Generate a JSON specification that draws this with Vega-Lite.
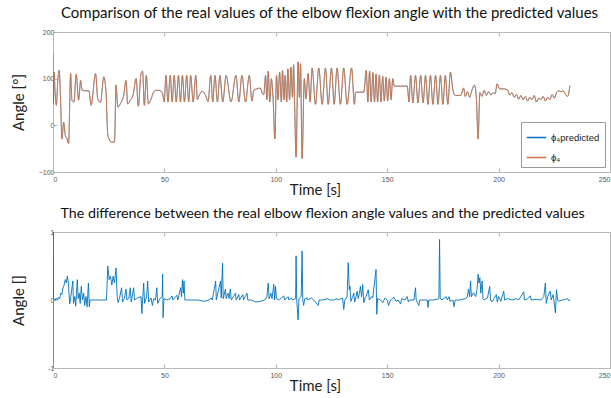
{
  "$schema": "https://vega.github.io/schema/vega-lite/v6.json",
  "autosize": {"type": "pad"},
  "padding": {"left": 10, "top": 5, "right": 0, "bottom": 0},
  "background": "white",
  "config": {
    "font": "Lato",
    "view": {"stroke": "#b8b8b8", "strokeWidth": 1},
    "axis": {
      "grid": false,
      "domainColor": "#b8b8b8",
      "tickColor": "#b8b8b8",
      "tickSize": -4,
      "labelFontSize": 7,
      "labelColor": "#555555",
      "labelFont": "Liberation Sans",
      "titleFont": "Lato",
      "titleFontWeight": "normal",
      "titleFontSize": 15,
      "titleColor": "#222222"
    },
    "title": {"fontSize": 15, "font": "Lato", "fontWeight": "normal", "color": "#111111", "offset": 7},
    "legend": {
      "strokeColor": "#9a9a9a",
      "fillColor": "white",
      "padding": 5,
      "symbolType": "stroke",
      "symbolSize": 380,
      "symbolStrokeWidth": 1.5,
      "labelFontSize": 9.5,
      "labelFont": "Liberation Sans",
      "labelColor": "#222222",
      "rowPadding": 5,
      "title": null
    },
    "concat": {"spacing": 8}
  },
  "resolve": {"scale": {"color": "independent"}, "legend": {"color": "independent"}},
  "datasets": {
    "top": [
      {"t":0,"real":100,"pred":155},{"t":0.15,"real":107,"pred":45},{"t":0.45,"real":114,"pred":114},{"t":1.0,"real":64,"pred":64},{"t":1.5,"real":43,"pred":43},{"t":2.2,"real":100,"pred":100},{"t":2.8,"real":118,"pred":118},{"t":3.4,"real":54,"pred":54},{"t":4.0,"real":-29,"pred":-29},{"t":4.8,"real":7,"pred":7},{"t":5.5,"real":-21,"pred":-21},{"t":6.3,"real":-29,"pred":-29},{"t":7.0,"real":-39,"pred":-39},{"t":7.9,"real":111,"pred":111},{"t":8.5,"real":54,"pred":54},{"t":9.4,"real":50,"pred":50},{"t":10.4,"real":109,"pred":109},{"t":11.5,"real":54,"pred":54},{"t":12.4,"real":96,"pred":96},{"t":13.1,"real":75,"pred":75},{"t":14.2,"real":74,"pred":74},{"t":16.1,"real":74,"pred":74},{"t":17.1,"real":43,"pred":43},{"t":19.1,"real":111,"pred":111},{"t":20.1,"real":57,"pred":57},{"t":21.3,"real":49,"pred":49},{"t":22.8,"real":104,"pred":104},{"t":23.8,"real":71,"pred":71},{"t":24.6,"real":-21,"pred":-21},{"t":25.2,"real":-29,"pred":-29},{"t":26.1,"real":-36,"pred":-36},{"t":27.6,"real":-36,"pred":-36},{"t":28.3,"real":86,"pred":86},{"t":29.1,"real":39,"pred":39},{"t":30.2,"real":46,"pred":46},{"t":31.7,"real":64,"pred":64},{"t":32.8,"real":96,"pred":96},{"t":33.5,"real":46,"pred":46},{"t":34.7,"real":54,"pred":54},{"t":35.9,"real":64,"pred":64},{"t":37.3,"real":100,"pred":100},{"t":38.3,"real":41,"pred":41},{"t":39.5,"real":111,"pred":111},{"t":40.2,"real":116,"pred":116},{"t":41.0,"real":43,"pred":43},{"t":41.9,"real":107,"pred":107},{"t":42.8,"real":46,"pred":46},{"t":44.0,"real":56,"pred":56},{"t":45.1,"real":71,"pred":71},{"t":46.2,"real":75,"pred":75},{"t":47.7,"real":75,"pred":75},{"t":49.2,"real":68,"pred":68},{"t":49.9,"real":50,"pred":50},{"t":50.7,"real":107,"pred":107},{"t":51.6,"real":50,"pred":50},{"t":52.6,"real":107,"pred":107},{"t":53.5,"real":50,"pred":50},{"t":54.4,"real":107,"pred":107},{"t":55.3,"real":50,"pred":50},{"t":56.3,"real":107,"pred":107},{"t":57.2,"real":50,"pred":50},{"t":58.1,"real":107,"pred":107},{"t":59.0,"real":50,"pred":50},{"t":60.0,"real":107,"pred":107},{"t":60.9,"real":50,"pred":50},{"t":61.8,"real":107,"pred":107},{"t":62.9,"real":50,"pred":50},{"t":64.1,"real":107,"pred":107},{"t":64.8,"real":55,"pred":55},{"t":65.6,"real":64,"pred":64},{"t":67.0,"real":73,"pred":73},{"t":68.5,"real":64,"pred":64},{"t":69.6,"real":51,"pred":51},{"t":70.8,"real":107,"pred":107},{"t":71.7,"real":50,"pred":50},{"t":72.7,"real":107,"pred":107},{"t":73.8,"real":50,"pred":50},{"t":74.9,"real":107,"pred":107},{"t":76.2,"real":50,"pred":50},{"t":77.7,"real":107,"pred":107},{"t":79.9,"real":50,"pred":50},{"t":82.1,"real":107,"pred":107},{"t":83.4,"real":50,"pred":50},{"t":84.8,"real":107,"pred":107},{"t":86.4,"real":50,"pred":50},{"t":88.1,"real":107,"pred":107},{"t":89.3,"real":52,"pred":52},{"t":90.2,"real":76,"pred":76},{"t":91.5,"real":78,"pred":78},{"t":93.0,"real":80,"pred":80},{"t":94.0,"real":68,"pred":68},{"t":94.6,"real":66,"pred":66},{"t":95.4,"real":107,"pred":107},{"t":96.0,"real":55,"pred":55},{"t":96.6,"real":116,"pred":116},{"t":97.3,"real":50,"pred":50},{"t":98.0,"real":100,"pred":100},{"t":98.8,"real":55,"pred":55},{"t":99.6,"real":-29,"pred":-29},{"t":100.3,"real":107,"pred":107},{"t":101.0,"real":55,"pred":55},{"t":101.7,"real":114,"pred":114},{"t":102.5,"real":50,"pred":50},{"t":103.0,"real":118,"pred":118},{"t":103.7,"real":55,"pred":55},{"t":104.2,"real":107,"pred":107},{"t":104.9,"real":50,"pred":50},{"t":105.4,"real":121,"pred":121},{"t":106.2,"real":55,"pred":55},{"t":106.8,"real":125,"pred":125},{"t":107.5,"real":60,"pred":60},{"t":108.0,"real":130,"pred":130},{"t":108.4,"real":55,"pred":55},{"t":109.1,"real":-68,"pred":-68},{"t":110.0,"real":136,"pred":136},{"t":110.6,"real":60,"pred":60},{"t":111.1,"real":132,"pred":132},{"t":111.8,"real":-71,"pred":-71},{"t":112.8,"real":100,"pred":100},{"t":113.5,"real":57,"pred":57},{"t":114.5,"real":111,"pred":111},{"t":115.4,"real":50,"pred":50},{"t":116.3,"real":123,"pred":123},{"t":117.8,"real":45,"pred":45},{"t":119.3,"real":123,"pred":123},{"t":120.8,"real":45,"pred":45},{"t":122.3,"real":123,"pred":123},{"t":123.5,"real":45,"pred":45},{"t":125.0,"real":123,"pred":123},{"t":126.2,"real":45,"pred":45},{"t":127.5,"real":123,"pred":123},{"t":129.0,"real":45,"pred":45},{"t":130.5,"real":123,"pred":123},{"t":132.0,"real":45,"pred":45},{"t":134.0,"real":123,"pred":123},{"t":135.3,"real":45,"pred":45},{"t":135.8,"real":71,"pred":71},{"t":137.5,"real":71,"pred":71},{"t":139.5,"real":71,"pred":71},{"t":140.6,"real":118,"pred":118},{"t":141.3,"real":50,"pred":50},{"t":142.1,"real":116,"pred":116},{"t":142.8,"real":50,"pred":50},{"t":143.6,"real":113,"pred":113},{"t":144.3,"real":50,"pred":50},{"t":145.0,"real":110,"pred":110},{"t":145.7,"real":50,"pred":50},{"t":146.5,"real":108,"pred":108},{"t":147.2,"real":50,"pred":50},{"t":148.0,"real":105,"pred":105},{"t":148.7,"real":52,"pred":52},{"t":149.5,"real":103,"pred":103},{"t":150.2,"real":52,"pred":52},{"t":151.0,"real":100,"pred":100},{"t":151.7,"real":55,"pred":55},{"t":152.5,"real":100,"pred":100},{"t":153.2,"real":84,"pred":84},{"t":154.5,"real":84,"pred":84},{"t":157.0,"real":84,"pred":84},{"t":159.0,"real":84,"pred":84},{"t":159.8,"real":50,"pred":50},{"t":160.5,"real":107,"pred":107},{"t":161.5,"real":48,"pred":48},{"t":162.7,"real":107,"pred":107},{"t":163.8,"real":48,"pred":48},{"t":165.0,"real":107,"pred":107},{"t":166.1,"real":48,"pred":48},{"t":167.2,"real":107,"pred":107},{"t":168.3,"real":45,"pred":45},{"t":169.4,"real":107,"pred":107},{"t":170.5,"real":45,"pred":45},{"t":171.7,"real":107,"pred":107},{"t":172.8,"real":45,"pred":45},{"t":173.9,"real":107,"pred":107},{"t":175.0,"real":45,"pred":45},{"t":176.1,"real":107,"pred":107},{"t":177.2,"real":45,"pred":45},{"t":178.4,"real":114,"pred":114},{"t":179.5,"real":75,"pred":75},{"t":180.6,"real":64,"pred":64},{"t":183.0,"real":64,"pred":64},{"t":184.3,"real":80,"pred":80},{"t":185.0,"real":62,"pred":62},{"t":186.0,"real":72,"pred":72},{"t":187.0,"real":60,"pred":60},{"t":188.0,"real":75,"pred":75},{"t":189.2,"real":86,"pred":86},{"t":190.0,"real":60,"pred":60},{"t":190.8,"real":-29,"pred":-29},{"t":191.6,"real":70,"pred":70},{"t":192.5,"real":62,"pred":62},{"t":193.5,"real":75,"pred":75},{"t":194.5,"real":64,"pred":64},{"t":195.5,"real":72,"pred":72},{"t":196.5,"real":65,"pred":65},{"t":197.5,"real":70,"pred":70},{"t":198.5,"real":68,"pred":68},{"t":199.3,"real":89,"pred":89},{"t":200.5,"real":78,"pred":78},{"t":202.5,"real":78,"pred":78},{"t":204.0,"real":76,"pred":76},{"t":205.0,"real":65,"pred":65},{"t":206.0,"real":70,"pred":70},{"t":207.0,"real":60,"pred":60},{"t":208.0,"real":66,"pred":66},{"t":209.0,"real":56,"pred":56},{"t":210.0,"real":64,"pred":64},{"t":211.0,"real":55,"pred":55},{"t":212.0,"real":62,"pred":62},{"t":213.0,"real":52,"pred":52},{"t":214.0,"real":60,"pred":60},{"t":215.0,"real":55,"pred":55},{"t":216.0,"real":64,"pred":64},{"t":217.0,"real":50,"pred":50},{"t":218.0,"real":58,"pred":58},{"t":219.0,"real":55,"pred":55},{"t":220.0,"real":62,"pred":62},{"t":221.0,"real":52,"pred":52},{"t":222.0,"real":60,"pred":60},{"t":223.0,"real":55,"pred":55},{"t":224.0,"real":66,"pred":66},{"t":225.0,"real":58,"pred":58},{"t":226.0,"real":70,"pred":70},{"t":227.0,"real":74,"pred":74},{"t":228.0,"real":72,"pred":72},{"t":229.0,"real":74,"pred":74},{"t":230.0,"real":66,"pred":66},{"t":231.0,"real":62,"pred":62},{"t":232.0,"real":85,"pred":85}
    ],
    "diff": [
      {"t":0,"d":-1.5},{"t":0.05,"d":1.5},{"t":0.2,"d":0.02},{"t":1.0,"d":0.0},{"t":1.5,"d":0.03},{"t":2.0,"d":0.0},{"t":2.5,"d":0.04},{"t":3.0,"d":0.02},{"t":3.5,"d":0.1},{"t":4.0,"d":0.08},{"t":4.5,"d":0.18},{"t":5.0,"d":0.22},{"t":5.5,"d":0.3},{"t":6.0,"d":0.25},{"t":6.4,"d":0.35},{"t":6.8,"d":0.28},{"t":7.2,"d":0.1},{"t":7.5,"d":-0.06},{"t":8.0,"d":0.05},{"t":8.9,"d":0.28},{"t":9.2,"d":-0.05},{"t":9.8,"d":0.05},{"t":10.2,"d":-0.09},{"t":10.9,"d":0.3},{"t":11.3,"d":0.02},{"t":11.8,"d":0.1},{"t":12.2,"d":-0.05},{"t":12.7,"d":0.2},{"t":13.2,"d":0.0},{"t":13.8,"d":0.1},{"t":14.2,"d":-0.08},{"t":14.8,"d":0.05},{"t":15.3,"d":-0.1},{"t":15.9,"d":0.25},{"t":16.3,"d":-0.1},{"t":16.6,"d":0.0},{"t":20.0,"d":0.0},{"t":24.0,"d":0.0},{"t":24.6,"d":0.5},{"t":25.2,"d":0.3},{"t":25.8,"d":0.35},{"t":26.4,"d":0.22},{"t":27.0,"d":0.35},{"t":27.6,"d":0.25},{"t":28.3,"d":0.47},{"t":28.8,"d":0.05},{"t":29.2,"d":-0.04},{"t":29.8,"d":0.02},{"t":30.8,"d":0.18},{"t":31.2,"d":-0.03},{"t":32.0,"d":0.02},{"t":32.8,"d":0.16},{"t":33.2,"d":0.0},{"t":34.0,"d":0.02},{"t":34.7,"d":0.18},{"t":35.1,"d":-0.03},{"t":36.2,"d":0.18},{"t":36.6,"d":0.0},{"t":37.5,"d":0.02},{"t":38.0,"d":0.03},{"t":39.5,"d":0.05},{"t":39.9,"d":-0.2},{"t":40.3,"d":0.05},{"t":40.7,"d":0.25},{"t":41.1,"d":-0.05},{"t":42.0,"d":0.05},{"t":42.5,"d":0.28},{"t":42.9,"d":-0.03},{"t":44.0,"d":0.03},{"t":44.6,"d":-0.08},{"t":45.2,"d":0.02},{"t":46.0,"d":0.0},{"t":46.6,"d":0.18},{"t":47.0,"d":-0.05},{"t":48.0,"d":0.02},{"t":49.0,"d":0.05},{"t":49.2,"d":0.38},{"t":49.4,"d":-0.26},{"t":49.8,"d":0.02},{"t":51.0,"d":0.0},{"t":52.5,"d":0.02},{"t":53.4,"d":0.06},{"t":53.8,"d":0.0},{"t":55.6,"d":0.07},{"t":56.0,"d":0.0},{"t":57.3,"d":0.18},{"t":57.7,"d":0.05},{"t":58.1,"d":0.3},{"t":58.5,"d":0.1},{"t":58.8,"d":0.28},{"t":59.2,"d":0.0},{"t":60.0,"d":0.0},{"t":65.0,"d":0.0},{"t":68.0,"d":-0.02},{"t":70.0,"d":0.0},{"t":71.0,"d":0.03},{"t":71.5,"d":0.0},{"t":73.0,"d":0.28},{"t":73.3,"d":0.0},{"t":75.2,"d":0.28},{"t":75.5,"d":0.03},{"t":76.1,"d":0.54},{"t":76.4,"d":0.02},{"t":77.4,"d":0.16},{"t":77.7,"d":0.02},{"t":78.5,"d":0.1},{"t":79.0,"d":0.02},{"t":79.6,"d":0.16},{"t":80.0,"d":0.0},{"t":81.9,"d":0.1},{"t":82.2,"d":0.0},{"t":83.4,"d":0.08},{"t":83.7,"d":0.0},{"t":85.2,"d":0.08},{"t":85.5,"d":0.0},{"t":87.1,"d":0.1},{"t":87.4,"d":0.0},{"t":89.0,"d":0.0},{"t":91.0,"d":-0.03},{"t":93.0,"d":-0.02},{"t":95.0,"d":0.0},{"t":96.0,"d":0.05},{"t":96.6,"d":0.25},{"t":97.0,"d":0.02},{"t":97.8,"d":0.1},{"t":98.3,"d":0.02},{"t":99.1,"d":0.23},{"t":99.5,"d":0.0},{"t":99.9,"d":0.2},{"t":100.3,"d":0.02},{"t":101.5,"d":0.0},{"t":103.6,"d":0.06},{"t":104.0,"d":0.0},{"t":105.5,"d":0.05},{"t":105.9,"d":0.0},{"t":107.0,"d":0.03},{"t":107.5,"d":0.0},{"t":108.9,"d":0.02},{"t":109.1,"d":0.65},{"t":109.4,"d":0.0},{"t":110.0,"d":-0.29},{"t":110.4,"d":0.02},{"t":111.4,"d":0.05},{"t":111.8,"d":0.72},{"t":112.1,"d":0.0},{"t":112.5,"d":-0.08},{"t":113.0,"d":0.02},{"t":114.0,"d":0.03},{"t":114.5,"d":0.0},{"t":116.0,"d":0.03},{"t":117.0,"d":0.0},{"t":119.0,"d":-0.08},{"t":119.5,"d":0.0},{"t":121.0,"d":0.0},{"t":123.5,"d":0.02},{"t":124.0,"d":0.0},{"t":126.0,"d":0.0},{"t":127.5,"d":0.02},{"t":128.0,"d":0.0},{"t":130.0,"d":0.03},{"t":130.5,"d":-0.14},{"t":131.0,"d":0.0},{"t":132.0,"d":0.05},{"t":132.5,"d":0.55},{"t":133.0,"d":0.15},{"t":133.3,"d":0.2},{"t":133.7,"d":-0.02},{"t":134.5,"d":0.05},{"t":135.0,"d":0.1},{"t":135.4,"d":-0.03},{"t":136.0,"d":0.05},{"t":136.5,"d":0.13},{"t":137.0,"d":0.02},{"t":137.5,"d":0.1},{"t":138.0,"d":0.2},{"t":138.5,"d":0.05},{"t":139.0,"d":0.23},{"t":139.5,"d":-0.04},{"t":140.0,"d":0.03},{"t":140.5,"d":0.05},{"t":141.5,"d":0.15},{"t":142.0,"d":0.0},{"t":143.0,"d":0.05},{"t":143.5,"d":0.03},{"t":145.0,"d":0.45},{"t":145.3,"d":-0.21},{"t":145.7,"d":0.02},{"t":147.0,"d":0.0},{"t":148.0,"d":-0.04},{"t":149.0,"d":0.03},{"t":150.0,"d":0.0},{"t":150.6,"d":-0.08},{"t":151.5,"d":0.0},{"t":153.0,"d":0.04},{"t":154.0,"d":-0.02},{"t":155.0,"d":0.0},{"t":156.0,"d":-0.06},{"t":156.5,"d":0.02},{"t":158.0,"d":0.0},{"t":159.0,"d":0.05},{"t":159.5,"d":-0.03},{"t":160.0,"d":0.0},{"t":162.0,"d":0.0},{"t":162.7,"d":0.18},{"t":163.0,"d":0.0},{"t":164.2,"d":-0.08},{"t":164.6,"d":0.0},{"t":166.0,"d":0.0},{"t":168.0,"d":0.0},{"t":168.3,"d":-0.11},{"t":168.7,"d":0.0},{"t":171.0,"d":0.0},{"t":173.2,"d":0.02},{"t":173.5,"d":0.89},{"t":173.8,"d":0.03},{"t":174.5,"d":0.0},{"t":176.5,"d":0.05},{"t":177.0,"d":0.0},{"t":177.8,"d":0.05},{"t":178.2,"d":-0.02},{"t":179.5,"d":0.0},{"t":180.0,"d":-0.1},{"t":180.5,"d":0.0},{"t":182.5,"d":0.0},{"t":185.0,"d":0.02},{"t":185.9,"d":0.04},{"t":186.5,"d":0.16},{"t":187.0,"d":0.05},{"t":187.4,"d":0.28},{"t":187.8,"d":0.05},{"t":188.5,"d":0.1},{"t":189.0,"d":0.1},{"t":189.7,"d":0.05},{"t":190.3,"d":0.15},{"t":190.8,"d":0.38},{"t":191.2,"d":0.25},{"t":191.6,"d":0.33},{"t":192.0,"d":0.1},{"t":192.6,"d":0.28},{"t":193.0,"d":0.02},{"t":193.5,"d":0.0},{"t":195.0,"d":0.03},{"t":196.0,"d":0.2},{"t":196.4,"d":0.0},{"t":197.0,"d":-0.03},{"t":198.0,"d":0.02},{"t":199.0,"d":0.08},{"t":199.4,"d":-0.03},{"t":200.0,"d":0.05},{"t":201.0,"d":-0.02},{"t":202.3,"d":0.13},{"t":202.7,"d":0.0},{"t":204.0,"d":0.02},{"t":206.0,"d":0.0},{"t":208.0,"d":0.02},{"t":209.0,"d":0.0},{"t":211.3,"d":0.12},{"t":211.6,"d":0.0},{"t":213.0,"d":0.02},{"t":214.3,"d":0.06},{"t":214.6,"d":0.0},{"t":217.0,"d":0.01},{"t":219.0,"d":0.0},{"t":220.3,"d":0.05},{"t":221.0,"d":0.25},{"t":221.4,"d":-0.05},{"t":222.0,"d":0.05},{"t":223.2,"d":0.13},{"t":223.6,"d":0.0},{"t":224.5,"d":0.08},{"t":225.5,"d":-0.19},{"t":226.0,"d":0.15},{"t":226.5,"d":0.0},{"t":227.0,"d":-0.02},{"t":228.5,"d":0.0},{"t":230.0,"d":0.01},{"t":231.0,"d":0.02},{"t":231.5,"d":-0.01},{"t":232.2,"d":0.0}
    ]
  },
  "vconcat": [
    {
      "title": {"text": "Comparison of the real values of the elbow flexion angle with the predicted values", "anchor": "middle", "dx": -2},
      "width": 557,
      "height": 140,
      "data": {"name": "top"},
      "layer": [
        {
          "mark": {"type": "line", "interpolate": "monotone", "strokeWidth": 0.6, "clip": true},
          "encoding": {
            "x": {"field": "t", "type": "quantitative", "scale": {"domain": [0, 250], "nice": false, "zero": false},
              "axis": {"values": [0, 50, 100, 150, 200, 250], "title": "Time [s]", "titleX": 262, "titleY": 17, "titleBaseline": "middle", "labelPadding": 7}},
            "y": {"field": "pred", "type": "quantitative", "scale": {"domain": [-100, 200], "nice": false, "zero": false},
              "axis": {"values": [-100, -50, 0, 50, 100, 150, 200], "title": "Angle [°]", "titleX": -35, "titleY": 70, "titleAngle": -90, "titleBaseline": "middle", "titleAlign": "center", "labelPadding": 3}},
            "color": {"datum": "ϕ₄predicted", "type": "nominal", "scale": {"domain": ["ϕ₄predicted", "ϕ₄"], "range": ["#0072BD", "#D4703F"]},
              "legend": {"orient": "bottom-right", "offset": 5}}
          }
        },
        {
          "mark": {"type": "line", "interpolate": "monotone", "strokeWidth": 0.9, "clip": true},
          "encoding": {
            "x": {"field": "t", "type": "quantitative", "scale": {"domain": [0, 250], "nice": false, "zero": false},
              "axis": {"orient": "top", "values": [0, 50, 100, 150, 200, 250], "labels": false, "domain": false, "title": null}},
            "y": {"field": "real", "type": "quantitative"},
            "color": {"datum": "ϕ₄", "type": "nominal"}
          }
        }
      ],
      "resolve": {"axis": {"x": "independent"}}
    },
    {
      "title": {"text": "The difference between the real elbow flexion angle values and the predicted values", "anchor": "middle", "dx": -9, "fontSize": 14.3},
      "width": 557,
      "height": 136,
      "data": {"name": "diff"},
      "layer": [
        {
          "mark": {"type": "line", "strokeWidth": 0.9, "color": "#0072BD", "clip": true},
          "encoding": {
            "x": {"field": "t", "type": "quantitative", "scale": {"domain": [0, 250], "nice": false, "zero": false},
              "axis": {"values": [0, 50, 100, 150, 200, 250], "title": "Time [s]", "titleX": 262, "titleY": 17, "titleBaseline": "middle", "labelPadding": 7}},
            "y": {"field": "d", "type": "quantitative", "scale": {"domain": [-1, 1], "nice": false, "zero": false},
              "axis": {"values": [-1, -0.5, 0, 0.5, 1], "labelExpr": "'' + datum.value", "title": "Angle []", "titleX": -35, "titleY": 68, "titleAngle": -90, "titleBaseline": "middle", "titleAlign": "center", "labelPadding": 3}}
          }
        },
        {
          "mark": {"type": "line", "strokeWidth": 0.9, "color": "#0072BD", "opacity": 0, "clip": true},
          "encoding": {
            "x": {"field": "t", "type": "quantitative", "scale": {"domain": [0, 250], "nice": false, "zero": false},
              "axis": {"orient": "top", "values": [0, 50, 100, 150, 200, 250], "labels": false, "domain": false, "title": null}},
            "y": {"field": "d", "type": "quantitative"}
          }
        }
      ],
      "resolve": {"axis": {"x": "independent"}}
    }
  ]
}
